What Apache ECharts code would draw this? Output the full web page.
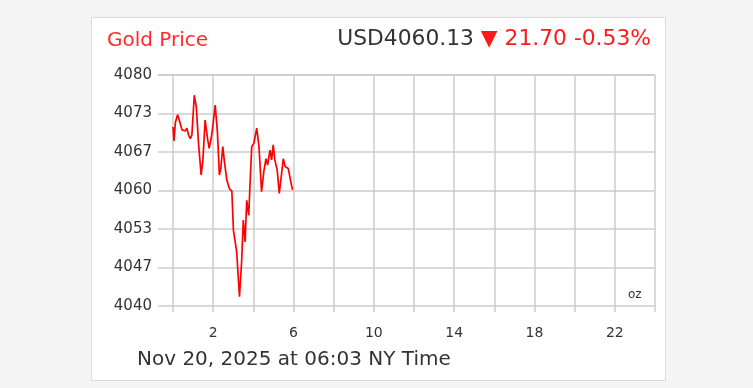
<!DOCTYPE html>
<html>
<head>
<meta charset="utf-8">
<script src="https://cdn.jsdelivr.net/npm/echarts@6/dist/echarts.min.js"></script>
<style>
  html, body { margin: 0; padding: 0; background: #f4f4f4; }
  .panel {
    position: absolute; left: 91px; top: 17px;
    width: 573px; height: 362px;
    background: #fff; border: 1px solid #dcdcdc;
  }
  #chart { position: absolute; left: 0; top: 0; width: 753px; height: 388px; }
</style>
</head>
<body>
<div class="panel"></div>
<div id="chart"></div>
<script>
// hours since midnight (NY time) and spot price, USD/oz
const hours = [0, 0.05, 0.12, 0.23, 0.36, 0.45, 0.61, 0.69, 0.78, 0.86, 0.94, 1.06, 1.16, 1.27, 1.40, 1.49,
  1.60, 1.72, 1.80, 1.90, 1.98, 2.10, 2.21, 2.31, 2.38, 2.48, 2.56, 2.68, 2.81, 2.93, 3.01, 3.17, 3.31,
  3.42, 3.50, 3.59, 3.67, 3.77, 3.83, 3.92, 4.03, 4.17, 4.28, 4.41, 4.53, 4.63, 4.71, 4.83, 4.91, 4.99,
  5.07, 5.19, 5.29, 5.39, 5.49, 5.59, 5.74, 5.85, 5.95]
const prices = [4071.0, 4068.6, 4071.8, 4073.1, 4071.6, 4070.5, 4070.3, 4070.8, 4069.6, 4069.0, 4069.6, 4076.5,
  4074.5, 4068.2, 4062.7, 4065.3, 4072.2, 4069.0, 4067.3, 4069.0, 4071.0, 4074.8, 4070.2, 4062.7, 4063.8,
  4067.6, 4065.0, 4061.8, 4060.3, 4059.9, 4053.1, 4049.4, 4041.6, 4047.9, 4054.9, 4051.1, 4058.3, 4055.7,
  4060.6, 4067.6, 4068.2, 4070.8, 4067.6, 4059.8, 4063.5, 4065.5, 4064.4, 4067.0, 4065.3, 4067.9, 4065.3,
  4063.5, 4059.5, 4062.4, 4065.5, 4064.1, 4063.8, 4061.8, 4060.1]
const xLabels = [2, 6, 10, 14, 18, 22]
const yMin = 4040
const yMax = 4080

const gridColor = '#cdcdcd'
const font = '"DejaVu Sans", Verdana, sans-serif'

const chart = echarts.init(document.getElementById('chart'))

chart.setOption({
  animation: false,
  textStyle: { fontFamily: font },
  title: {
    text: 'Gold Price',
    left: 102, top: 26,
    textStyle: { color: '#ff2a2a', fontSize: 20, fontWeight: 'normal', fontFamily: font }
  },
  graphic: [
    {
      type: 'text', right: 102, top: 28,
      style: {
        text: '{a|USD4060.13 }{b|▼ 21.70 -0.53%}',
        rich: {
          a: { fontSize: 21.8, fill: '#333', fontFamily: font },
          b: { fontSize: 21.8, fill: '#ff1a1a', fontFamily: font }
        }
      }
    },
    {
      type: 'text', left: 137, top: 350,
      style: { text: 'Nov 20, 2025 at 06:03 NY Time', fontSize: 20, fill: '#333', fontFamily: font }
    },
    {
      type: 'text', left: 628, top: 289,
      style: { text: 'oz', fontSize: 12, fill: '#333', fontFamily: font }
    }
  ],
  grid: [
    // wider grid only for the horizontal lines and y labels
    { left: 158, right: 98, top: 75, bottom: 82 },
    { left: 173, right: 98, top: 75, bottom: 82 }
  ],
  xAxis: [
    { gridIndex: 0, type: 'value', min: 0, max: 1, show: false },
    {
      gridIndex: 1, type: 'value', min: 0, max: 24, interval: 2,
      axisLine: { show: false },
      axisTick: { show: true, length: 6, lineStyle: { color: gridColor, width: 1.5 } },
      splitLine: { show: true, lineStyle: { color: gridColor, width: 1.5 } },
      axisLabel: {
        margin: 20, fontSize: 14, color: '#333', fontFamily: font,
        formatter: v => xLabels.includes(v) ? String(v) : ''
      }
    }
  ],
  yAxis: [
    {
      gridIndex: 0, type: 'value', min: yMin, max: yMax, interval: (yMax - yMin) / 6,
      axisLine: { show: false }, axisTick: { show: false },
      splitLine: { lineStyle: { color: gridColor, width: 1.5 } },
      axisLabel: {
        margin: 6, fontSize: 15, color: '#333', fontFamily: font,
        formatter: v => String(Math.round(v))
      }
    },
    {
      gridIndex: 1, type: 'value', min: yMin, max: yMax, show: false,
      splitLine: { show: false }
    }
  ],
  series: [
    {
      type: 'line',
      xAxisIndex: 1, yAxisIndex: 1,
      data: hours.map((h, i) => [h, prices[i]]),
      showSymbol: false,
      lineStyle: { color: '#ff0000', width: 1.7 }
    }
  ]
})
</script>
</body>
</html>
